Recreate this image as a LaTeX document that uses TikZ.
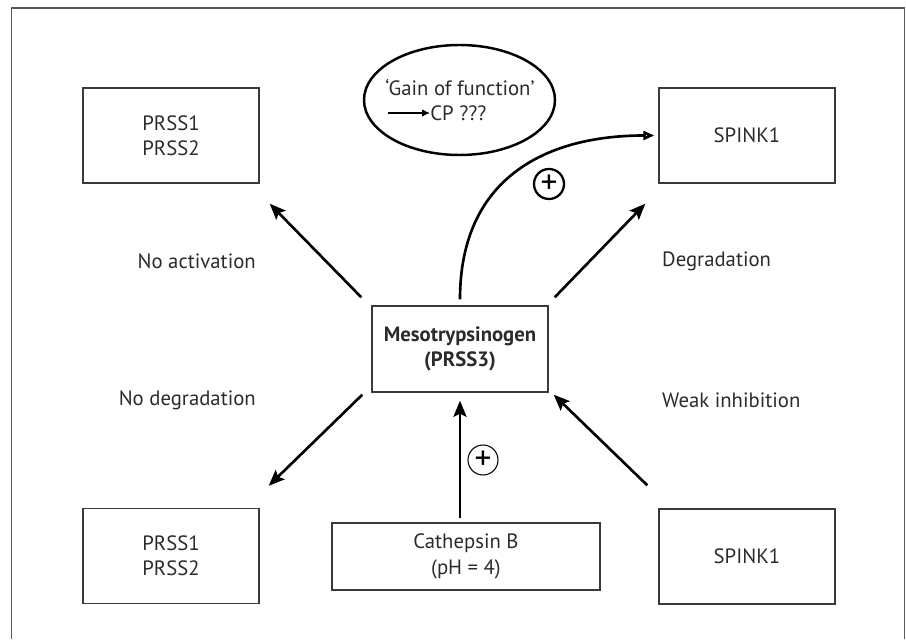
\documentclass[tikz,border=0pt]{standalone}
\usepackage{fontspec}
\setmainfont{PT Sans}
\usetikzlibrary{arrows.meta, shapes.geometric, calc, positioning}
\definecolor{boxGrey}{HTML}{3A3A3A}
\definecolor{txtGrey}{HTML}{2B2B2B}
\definecolor{frameGrey}{HTML}{5A5A5A}
\tikzset{
  lbl/.style      = {font=\fontsize{11.8}{14.5}\selectfont, text=txtGrey},
  protbox/.style  = {draw=boxGrey, line width=0.8pt, lbl, align=center,
                     minimum width=3.52cm, minimum height=1.9cm, inner sep=0pt},
  arr/.style      = {-{Stealth[length=3.2mm, width=2.6mm, inset=0.6mm]}, line width=1.5pt},
  openarr/.style  = {-{Triangle[open, length=2.2mm, width=1.8mm]}, line width=1.5pt},
  plusthick/.style= {circle, draw, line width=1.3pt, minimum size=0.6cm, inner sep=0pt,
                     font=\fontsize{19}{19}\selectfont},
  plusthin/.style = {circle, draw, line width=0.6pt, minimum size=0.6cm, inner sep=0pt,
                     font=\fontsize{19}{19}\selectfont},
}
\begin{document}
\begin{tikzpicture}[x=1cm,y=1cm]
  \useasboundingbox (0,0) rectangle (18.12,12.78);
  % frame
  \draw[frameGrey, line width=0.8pt] (0.23,0) -- (0.23,12.62) -- (18.09,12.62) -- (18.09,0);
  % boxes
  \node[protbox] (prssTop) at (3.42,10.07) {PRSS1\\PRSS2};
  \node[protbox] (spinkTop) at (14.94,10.07) {SPINK1};
  \node[protbox, minimum height=1.72cm, font=\fontsize{11.8}{14.5}\selectfont\bfseries]
       (meso) at (9.2,5.8) {Mesotrypsinogen\\(PRSS3)};
  \node[protbox] (prssBot) at (3.42,1.66) {PRSS1\\PRSS2};
  \node[protbox, minimum width=5.36cm, minimum height=1.34cm] (cath) at (9.32,1.65) {Cathepsin B\\(pH = 4)};
  \node[protbox] (spinkBot) at (14.94,1.65) {SPINK1};
  % gain of function
  \node[draw, ellipse, line width=1.4pt, minimum width=3.82cm, minimum height=2.2cm] (gof) at (9.19,10.78) {};
  \node[lbl] (gain) at (9.2,11.02) {‘Gain of function’};
  \node[lbl, anchor=west, inner sep=0pt] (cp) at (8.6,10.52) {CP ???};
  \coordinate (cpstart) at ($(cp.west)+(-0.84,0)$);
  \draw[-{Latex[length=1.6mm, width=1.5mm]}, line width=0.7pt] (cpstart) -- (cp.west);
  % arrows
  \draw[arr] ($(meso.north west)+(-0.2,0.16)$) -- ($(prssTop.south east)+(0.2,-0.4)$);
  \draw[arr] ($(meso.north east)+(0.12,0.16)$) -- ($(spinkTop.south west)+(-0.26,-0.4)$);
  \draw[arr] ($(meso.south west)+(-0.18,-0.04)$) -- ($(prssBot.north east)+(0.18,0.44)$);
  \draw[arr] ($(spinkBot.north west)+(-0.22,0.46)$) -- ($(meso.south east)+(0.1,-0.04)$);
  \draw[arr] ($(cath.north -| meso.south)+(0,0.08)$) -- ($(meso.south)+(0,-0.16)$);
  \draw[openarr] ($(meso.north)+(0,0.12)$) .. controls +(0,2.4) and +(-2.2,0) .. ($(spinkTop.west)+(-0.08,0)$);
  \node[plusthick] (plusTop) at (10.98,9.1) {+};
  \node[plusthin] (plusBot) at (9.66,3.58) {+};
  % labels
  \node[lbl, anchor=east] (noact) at (5.24,7.56) {No activation};
  \node[lbl, anchor=west] (degr) at (13.12,7.56) {Degradation};
  \node[lbl, anchor=east] (nodegr) at (5.24,4.78) {No degradation};
  \node[lbl, anchor=west] (weak) at (13.12,4.78) {Weak inhibition};
\end{tikzpicture}
\end{document}
